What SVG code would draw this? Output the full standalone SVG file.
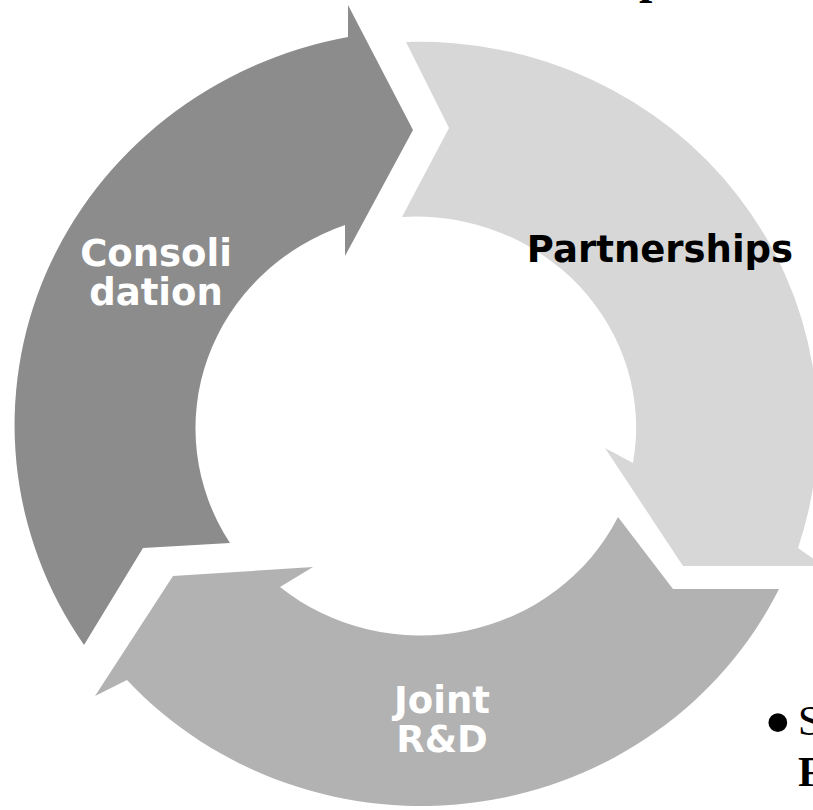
<svg xmlns="http://www.w3.org/2000/svg" width="813" height="810" viewBox="0 0 813 810">
  <style>
    .dark { fill: #8c8c8c; }
    .mid { fill: #b2b2b2; }
    .light { fill: #d7d7d7; }
    .label { font-family: "DejaVu Sans", Verdana, sans-serif; font-weight: bold; font-size: 37px; text-anchor: middle; }
    .on-dark { fill: #ffffff; }
    .on-light { fill: #000000; }
    .body { font-family: "Liberation Serif", "Times New Roman", serif; font-size: 42px; fill: #000000; }
    .bold { font-weight: bold; }
  </style>
  <rect width="813" height="810" fill="#ffffff"/>

  <!-- heading line sitting above the top edge -->
  <g id="heading">
    <text class="body bold" x="639" y="-7" style="font-size:48px">p</text>
  </g>

  <!-- cycle arrow 1: left, running up to the top -->
  <g id="node-consolidation">
    <path class="dark" d="M230,543 L143,548 L84,645 A410,395 0 0 1 348,37 L348,5 L413,130 L345,256 L345,225 A226,216 0 0 0 230,543 Z"/>
    <text class="label on-dark" x="156" y="266">Consoli</text>
    <text class="label on-dark" x="156" y="305">dation</text>
  </g>

  <!-- cycle arrow 2: right, running down to the lower right -->
  <g id="node-partnerships">
    <path class="light" d="M406,42 L449,128 L402,217 A220,211 0 0 1 633,463 L605,448 L683,566 L824,566 L798,548 A398,386 0 0 0 406,42 Z"/>
    <text class="label on-light" x="660" y="262">Partnerships</text>
  </g>

  <!-- cycle arrow 3: bottom, running back to the left -->
  <g id="node-joint-rd">
    <path class="mid" d="M779,589 L673,589 L618,517 A220,211 0 0 1 280,587 L313,567 L173,576 L95,696 L127,680 A398,386 0 0 0 779,589 Z"/>
    <text class="label on-dark" x="442" y="713">Joint</text>
    <text class="label on-dark" x="442" y="752">R&amp;D</text>
  </g>

  <!-- bulleted text at the lower right -->
  <g id="side-text">
    <text class="body" x="764" y="749" style="font-size:79px">•</text>
    <text class="body" x="798" y="735">S</text>
    <text class="body bold" x="798" y="786">F</text>
  </g>
</svg>
